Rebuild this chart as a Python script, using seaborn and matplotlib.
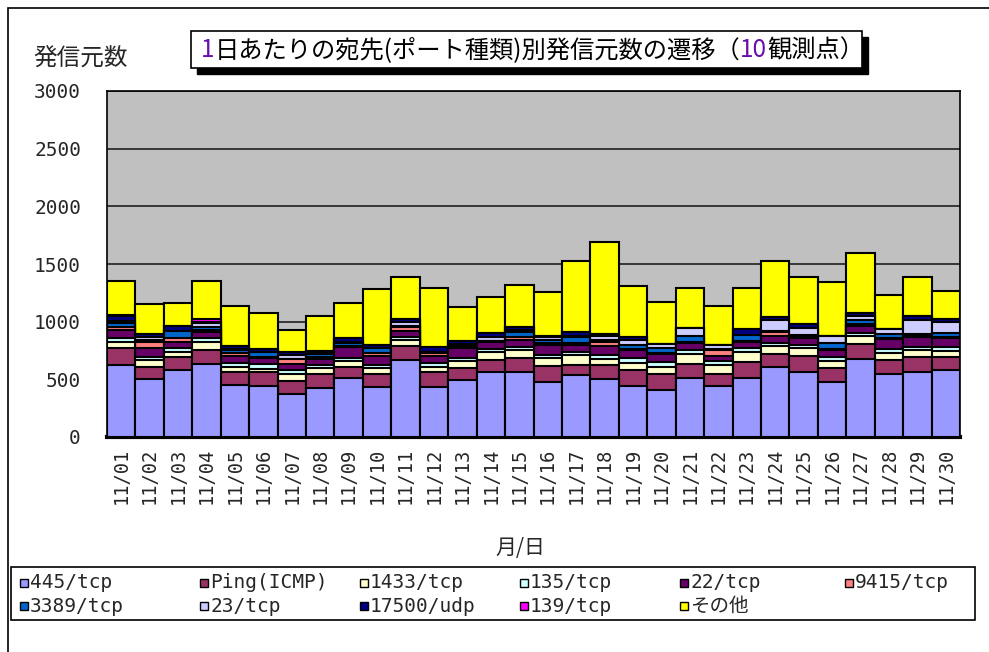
import numpy as np
import pandas as pd
import matplotlib
matplotlib.use('Agg')
import matplotlib.pyplot as plt
from matplotlib.patches import Rectangle
from matplotlib.text import Annotation
import seaborn as sns

# data (daily counts of source hosts per destination port)
days = ['11/01', '11/02', '11/03', '11/04', '11/05', '11/06', '11/07', '11/08', '11/09', '11/10',
        '11/11', '11/12', '11/13', '11/14', '11/15', '11/16', '11/17', '11/18', '11/19', '11/20',
        '11/21', '11/22', '11/23', '11/24', '11/25', '11/26', '11/27', '11/28', '11/29', '11/30']

p445 = [620, 500, 585, 635, 450, 445, 375, 425, 515, 430, 670, 435, 495, 565, 565,
        480, 540, 500, 445, 410, 513, 444, 513, 609, 566, 479, 678, 548, 566, 583]
ping = [155, 110, 105, 120, 115, 115, 110, 120, 95, 120, 120, 130, 105, 105, 120,
        138, 87, 120, 138, 138, 122, 104, 140, 113, 139, 121, 131, 122, 130, 113]
p1433 = [50, 60, 45, 70, 45, 30, 60, 50, 50, 50, 52, 45, 55, 70, 70,
         70, 80, 52, 61, 61, 87, 78, 87, 70, 69, 61, 70, 61, 61, 52]
p135 = [35, 25, 35, 35, 35, 40, 35, 25, 25, 25, 26, 35, 30, 25, 26,
        26, 26, 35, 43, 44, 35, 35, 34, 26, 26, 35, 26, 34, 26, 35]
p22 = [70, 80, 50, 50, 60, 55, 52, 60, 95, 80, 52, 60, 85, 60, 61,
       87, 69, 78, 70, 69, 61, 44, 52, 61, 61, 61, 61, 87, 87, 78]
p9415 = [25, 45, 35, 15, 25, 10, 43, 10, 10, 25, 35, 25, 5, 5, 26,
         10, 10, 35, 10, 10, 10, 52, 10, 34, 10, 10, 10, 10, 10, 10]
p3389 = [35, 20, 60, 30, 25, 45, 5, 30, 25, 45, 5, 5, 10, 5, 43,
         34, 51, 22, 35, 42, 51, 8, 51, 10, 10, 51, 42, 34, 10, 34]
p23 = [15, 30, 5, 30, 5, 0, 30, 5, 5, 0, 38, 0, 25, 30, 20,
       25, 10, 30, 35, 35, 69, 35, 0, 95, 61, 61, 30, 44, 121, 95]
p17500 = [45, 25, 40, 15, 30, 20, 26, 25, 35, 25, 26, 48, 25, 40, 24,
          10, 34, 18, 33, 0, 0, 0, 53, 26, 34, 0, 31, 0, 42, 26]
p139 = [5, 0, 0, 20, 0, 0, 0, 0, 0, 0, 0, 0, 0, 0, 0,
        0, 0, 0, 0, 0, 0, 0, 0, 0, 0, 0, 0, 0, 0, 0]
other = [300, 260, 200, 330, 350, 315, 194, 300, 310, 480, 366, 505, 295, 310, 365,
         373, 617, 800, 435, 365, 340, 340, 348, 478, 407, 461, 513, 287, 330, 236]

ports = ['445/tcp', 'Ping(ICMP)', '1433/tcp', '135/tcp', '22/tcp', '9415/tcp',
         '3389/tcp', '23/tcp', '17500/udp', '139/tcp', 'その他']
colors = ['#9999FF', '#993366', '#FFFFCC', '#CCFFFF', '#660066', '#FF8080',
          '#0066CC', '#CCCCFF', '#000080', '#FF00FF', '#FFFF00']

df = pd.DataFrame(dict(zip(ports, [p445, ping, p1433, p135, p22, p9415,
                                   p3389, p23, p17500, p139, other])), index=days)
cum = df.cumsum(axis=1)

sns.set_style('white')
plt.rcParams['font.family'] = ['Noto Sans CJK JP', 'DejaVu Sans']
mono = ['DejaVu Sans Mono', 'Noto Sans CJK JP']

fig = plt.figure(figsize=(9.89, 6.52), dpi=100)
ax = fig.add_axes([107 / 989, 1 - 437 / 652, 853 / 989, 346 / 652])
ax.set_facecolor('#C0C0C0')

# stacked bars: draw cumulative totals from the top layer down
for name, col in reversed(list(zip(ports, colors))):
    sns.barplot(x=days, y=cum[name].values, color=col, saturation=1, width=1.0,
                edgecolor='black', linewidth=1.5, ax=ax, zorder=3)

ax.set_ylim(0, 3000)
ax.set_xlim(-0.5, 29.5)
ax.set_yticks(range(0, 3001, 500))
ax.yaxis.grid(True, color='#202020', linewidth=1.2)
ax.set_axisbelow(True)
for s in ax.spines.values():
    s.set_color('black')
    s.set_linewidth(1.2)
ax.spines['bottom'].set_linewidth(3)
ax.tick_params(axis='y', labelsize=14, length=0, pad=26 * 0.72)
ax.tick_params(axis='x', labelsize=13.5, length=0, rotation=90, pad=8)
for lab in ax.get_xticklabels() + ax.get_yticklabels():
    lab.set_family(mono)
ax.set_xlabel('')
ax.set_ylabel('')

# outer chart border
fig.patches.append(Rectangle((8 / 989, -0.02), 1.0, 1 - 8 / 652 + 0.02, transform=fig.transFigure,
                             fill=False, ec='black', lw=1.2))

# title box with shadow
fig.patches.append(Rectangle((197 / 989, 1 - 74 / 652), 671 / 989, 37 / 652,
                             transform=fig.transFigure, fc='black', ec='black', lw=1))
fig.patches.append(Rectangle((191 / 989, 1 - 68 / 652), 671 / 989, 37 / 652,
                             transform=fig.transFigure, fc='white', ec='black', lw=1.2))
prev = fig.text(201 / 989, 1 - 50 / 652, '1', color='#6A0DAD', fontsize=17.5, va='center', zorder=5)
pieces = [('日あたりの宛先(ポート種類)別発信元数の遷移（', 'black'), ('10', '#6A0DAD'), ('観測点）', 'black')]
for txt, c in pieces:
    prev = fig.add_artist(Annotation(txt, xy=(1, 0.5), xycoords=prev, color=c, fontsize=17.5,
                                     va='center', ha='left', annotation_clip=False, zorder=5))

# axis titles
fig.text(33 / 989, 1 - 59 / 652, '発信元数', fontsize=17, va='center', ha='left')
fig.text(520 / 989, 1 - 548 / 652, '月/日', fontsize=15, va='center', ha='center')

# legend box: 2 rows x 6 columns, row-major like the original
fig.patches.append(Rectangle((11 / 989, 1 - 620 / 652), 964 / 989, 53 / 652,
                             transform=fig.transFigure, fill=False, ec='black', lw=1.2))
col_x = [20, 200, 360, 520, 680, 845]
row_y = [583, 606]
for i, (p, c) in enumerate(zip(ports, colors)):
    x0 = col_x[i % 6]
    y0 = row_y[i // 6]
    fig.patches.append(Rectangle((x0 / 989, 1 - (y0 + 4) / 652), 8 / 989, 8 / 652,
                                 transform=fig.transFigure, fc=c, ec='black', lw=1))
    fig.text((x0 + 10) / 989, 1 - y0 / 652, p, family=mono, fontsize=14,
             va='center', ha='left')

fig.savefig('out.png', dpi=100)
